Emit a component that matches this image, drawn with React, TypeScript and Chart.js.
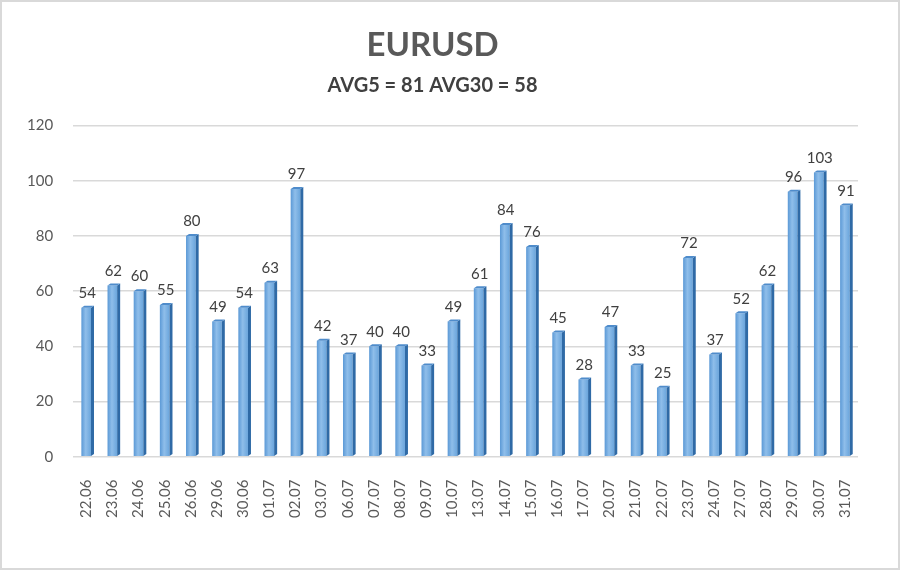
import { Chart, registerables } from 'chart.js';
import type { Plugin, ScriptableContext } from 'chart.js';
import { useEffect, useRef } from 'react';

Chart.register(...registerables);

const dates = [
  '22.06', '23.06', '24.06', '25.06', '26.06', '29.06', '30.06', '01.07',
  '02.07', '03.07', '06.07', '07.07', '08.07', '09.07', '10.07', '13.07',
  '14.07', '15.07', '16.07', '17.07', '20.07', '21.07', '22.07', '23.07',
  '24.07', '27.07', '28.07', '29.07', '30.07', '31.07',
];

const volatility = [
  54, 62, 60, 55, 80, 49, 54, 63, 97, 42, 37, 40, 40, 33, 49, 61, 84, 76, 45,
  28, 47, 33, 25, 72, 37, 52, 62, 96, 103, 91,
];

const chartTitle = 'EURUSD';
const chartSubtitle = 'AVG5 = 81 AVG30 = 58';

const fontFamily = 'Lato, "Open Sans", sans-serif';
const CAT_PCT = 0.8;
const BAR_PCT = 0.46;

// side + top faces and the value labels, drawn from each bar element
const bar3dPlugin: Plugin<'bar'> = {
  id: 'bar3d',
  afterDatasetsDraw(chart) {
    const { ctx } = chart;
    const meta = chart.getDatasetMeta(0);
    const depth = 3;
    ctx.save();
    meta.data.forEach((el, i) => {
      const { x, y, base, width } = el.getProps(['x', 'y', 'base', 'width'], true) as {
        x: number; y: number; base: number; width: number;
      };
      const left = x - width / 2;
      const right = x + width / 2;

      ctx.fillStyle = '#2f6aa6';
      ctx.beginPath();
      ctx.moveTo(right, y);
      ctx.lineTo(right + depth, y - depth + 1);
      ctx.lineTo(right + depth, base - depth + 1);
      ctx.lineTo(right, base);
      ctx.closePath();
      ctx.fill();

      ctx.fillStyle = '#4f8ccb';
      ctx.beginPath();
      ctx.moveTo(left, y);
      ctx.lineTo(left + depth, y - depth + 1);
      ctx.lineTo(right + depth, y - depth + 1);
      ctx.lineTo(right, y);
      ctx.closePath();
      ctx.fill();

      ctx.fillStyle = '#404040';
      ctx.font = `15px ${fontFamily}`;
      ctx.textAlign = 'center';
      ctx.textBaseline = 'bottom';
      ctx.fillText(String(volatility[i]), x + 1, y - 7);
    });
    ctx.restore();
  },
};

function barFill(c: ScriptableContext<'bar'>) {
  const chart = c.chart;
  const xs = chart.scales.x;
  const flat = '#7bafe0';
  if (!xs || c.type !== 'data') return flat;
  const cx = xs.getPixelForValue(c.dataIndex);
  const w = (xs.width / dates.length) * CAT_PCT * BAR_PCT;
  if (!Number.isFinite(cx) || !Number.isFinite(w) || w <= 0) return flat;
  const g = chart.ctx.createLinearGradient(cx - w / 2, 0, cx + w / 2, 0);
  g.addColorStop(0, '#5b99d6');
  g.addColorStop(0.45, '#8fbeea');
  g.addColorStop(1, '#6aa5dc');
  return g;
}

export default function App() {
  const canvasRef = useRef<HTMLCanvasElement>(null);
  const chartRef = useRef<Chart<'bar'> | null>(null);

  useEffect(() => {
    const canvas = canvasRef.current;
    if (!canvas) {
      return undefined;
    }
    chartRef.current?.destroy();

    chartRef.current = new Chart(canvas, {
      type: 'bar',
      data: {
        labels: dates,
        datasets: [
          {
            label: chartTitle,
            data: volatility,
            backgroundColor: barFill,
            borderWidth: 0,
            categoryPercentage: CAT_PCT,
            barPercentage: BAR_PCT,
          },
        ],
      },
      options: {
        animation: false,
        responsive: true,
        maintainAspectRatio: false,
        layout: {
          padding: { left: 5, right: 40, top: 0, bottom: 35 },
        },
        plugins: {
          legend: { display: false },
          tooltip: { enabled: false },
          title: {
            display: true,
            text: chartTitle,
            color: '#595959',
            font: { family: fontFamily, size: 33, weight: 'bold' },
            padding: { top: 24, bottom: 0 },
          },
          subtitle: {
            display: true,
            text: chartSubtitle,
            color: '#404040',
            font: { family: fontFamily, size: 20, weight: 'bold' },
            padding: { top: 8, bottom: 28 },
          },
        },
        scales: {
          x: {
            grid: { display: false },
            border: { display: false },
            ticks: {
              color: '#595959',
              font: { family: fontFamily, size: 15 },
              minRotation: 90,
              maxRotation: 90,
              padding: 15,
              autoSkip: false,
            },
          },
          y: {
            min: 0,
            max: 120,
            grid: { color: '#d9d9d9', lineWidth: 1.5, drawTicks: false },
            border: { display: false },
            ticks: {
              stepSize: 20,
              color: '#595959',
              font: { family: fontFamily, size: 15 },
              padding: 20,
            },
          },
        },
      },
      plugins: [bar3dPlugin],
    });

    return () => {
      chartRef.current?.destroy();
      chartRef.current = null;
    };
  }, []);

  return (
    <div
      style={{
        position: 'fixed',
        left: 0,
        top: 0,
        width: 900,
        height: 570,
        boxSizing: 'border-box',
        border: '2px solid #d9d9d9',
        background: '#ffffff',
      }}
    >
      <canvas ref={canvasRef} aria-label="EURUSD volatility chart" role="img" />
    </div>
  );
}
